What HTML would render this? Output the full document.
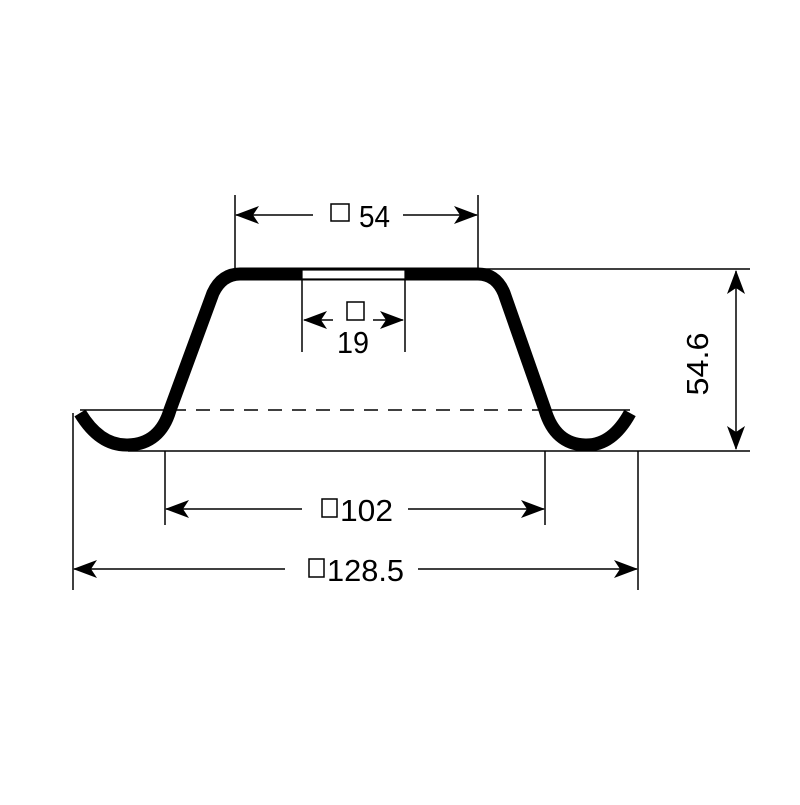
<!DOCTYPE html>
<html><head><style>body{margin:0;background:#fff}</style></head><body>
<svg width="800" height="800" viewBox="0 0 800 800" xmlns="http://www.w3.org/2000/svg">
<defs>
<marker id="a" viewBox="0 0 24 18" refX="23" refY="9" markerWidth="24" markerHeight="18" markerUnits="userSpaceOnUse" orient="auto-start-reverse">
<path d="M0,0 L24,9 L0,18 L6,9 Z" fill="#000"/>
</marker>
</defs>
<g stroke="#000" stroke-width="1.5" fill="none">
<line x1="80" y1="410" x2="172" y2="410"/>
<line x1="172" y1="410" x2="545" y2="410" stroke-dasharray="14,10"/>
<line x1="545" y1="410" x2="630" y2="410"/>
<line x1="128" y1="451" x2="750" y2="451"/>
<line x1="478" y1="269" x2="750" y2="269"/>
<line x1="235" y1="195" x2="235" y2="270"/>
<line x1="478" y1="195" x2="478" y2="270"/>
<line x1="302" y1="279" x2="302" y2="352"/>
<line x1="405" y1="279" x2="405" y2="352"/>
<line x1="165" y1="451" x2="165" y2="525"/>
<line x1="545" y1="451" x2="545" y2="525"/>
<line x1="73" y1="413" x2="73" y2="590"/>
<line x1="638" y1="451" x2="638" y2="590"/>
<line x1="313" y1="215" x2="236" y2="215" marker-end="url(#a)"/>
<line x1="403" y1="215" x2="477" y2="215" marker-end="url(#a)"/>
<line x1="333" y1="320" x2="304" y2="320" marker-end="url(#a)"/>
<line x1="373" y1="320" x2="403" y2="320" marker-end="url(#a)"/>
<line x1="302" y1="509" x2="166" y2="509" marker-end="url(#a)"/>
<line x1="408" y1="509" x2="544" y2="509" marker-end="url(#a)"/>
<line x1="285" y1="569" x2="74" y2="569" marker-end="url(#a)"/>
<line x1="418" y1="569" x2="637" y2="569" marker-end="url(#a)"/>
<line x1="736" y1="271" x2="736" y2="449" marker-start="url(#a)" marker-end="url(#a)"/>
</g>
<path d="M80,413 Q100,446 128,445 Q160,444 170,410 L213,293 Q222,274 240,274 L478,274 Q496,274 504,293 L545,410 Q555,444 585,445 Q612,446 630,413" stroke="#000" stroke-width="13" fill="none" stroke-linejoin="round"/>
<rect x="302" y="270" width="103" height="9" fill="#fff" stroke="#000" stroke-width="1.2"/>
<g font-family="Liberation Sans, sans-serif" font-size="31" fill="#000">
<rect x="331" y="204" width="18" height="17" fill="none" stroke="#000" stroke-width="1.5"/>
<text x="359" y="227" textLength="31" lengthAdjust="spacingAndGlyphs">54</text>
<rect x="347" y="302" width="17" height="18" fill="none" stroke="#000" stroke-width="1.5"/>
<text x="337" y="353" textLength="32" lengthAdjust="spacingAndGlyphs">19</text>
<rect x="322" y="499" width="15" height="18" fill="none" stroke="#000" stroke-width="1.5"/>
<text x="340" y="521" textLength="53" lengthAdjust="spacingAndGlyphs">102</text>
<rect x="309" y="559" width="15" height="18" fill="none" stroke="#000" stroke-width="1.5"/>
<text x="327" y="581" textLength="77" lengthAdjust="spacingAndGlyphs">128.5</text>
<text transform="translate(708,364) rotate(-90)" text-anchor="middle" textLength="63" lengthAdjust="spacingAndGlyphs">54.6</text>
</g>
</svg>
</body></html>
